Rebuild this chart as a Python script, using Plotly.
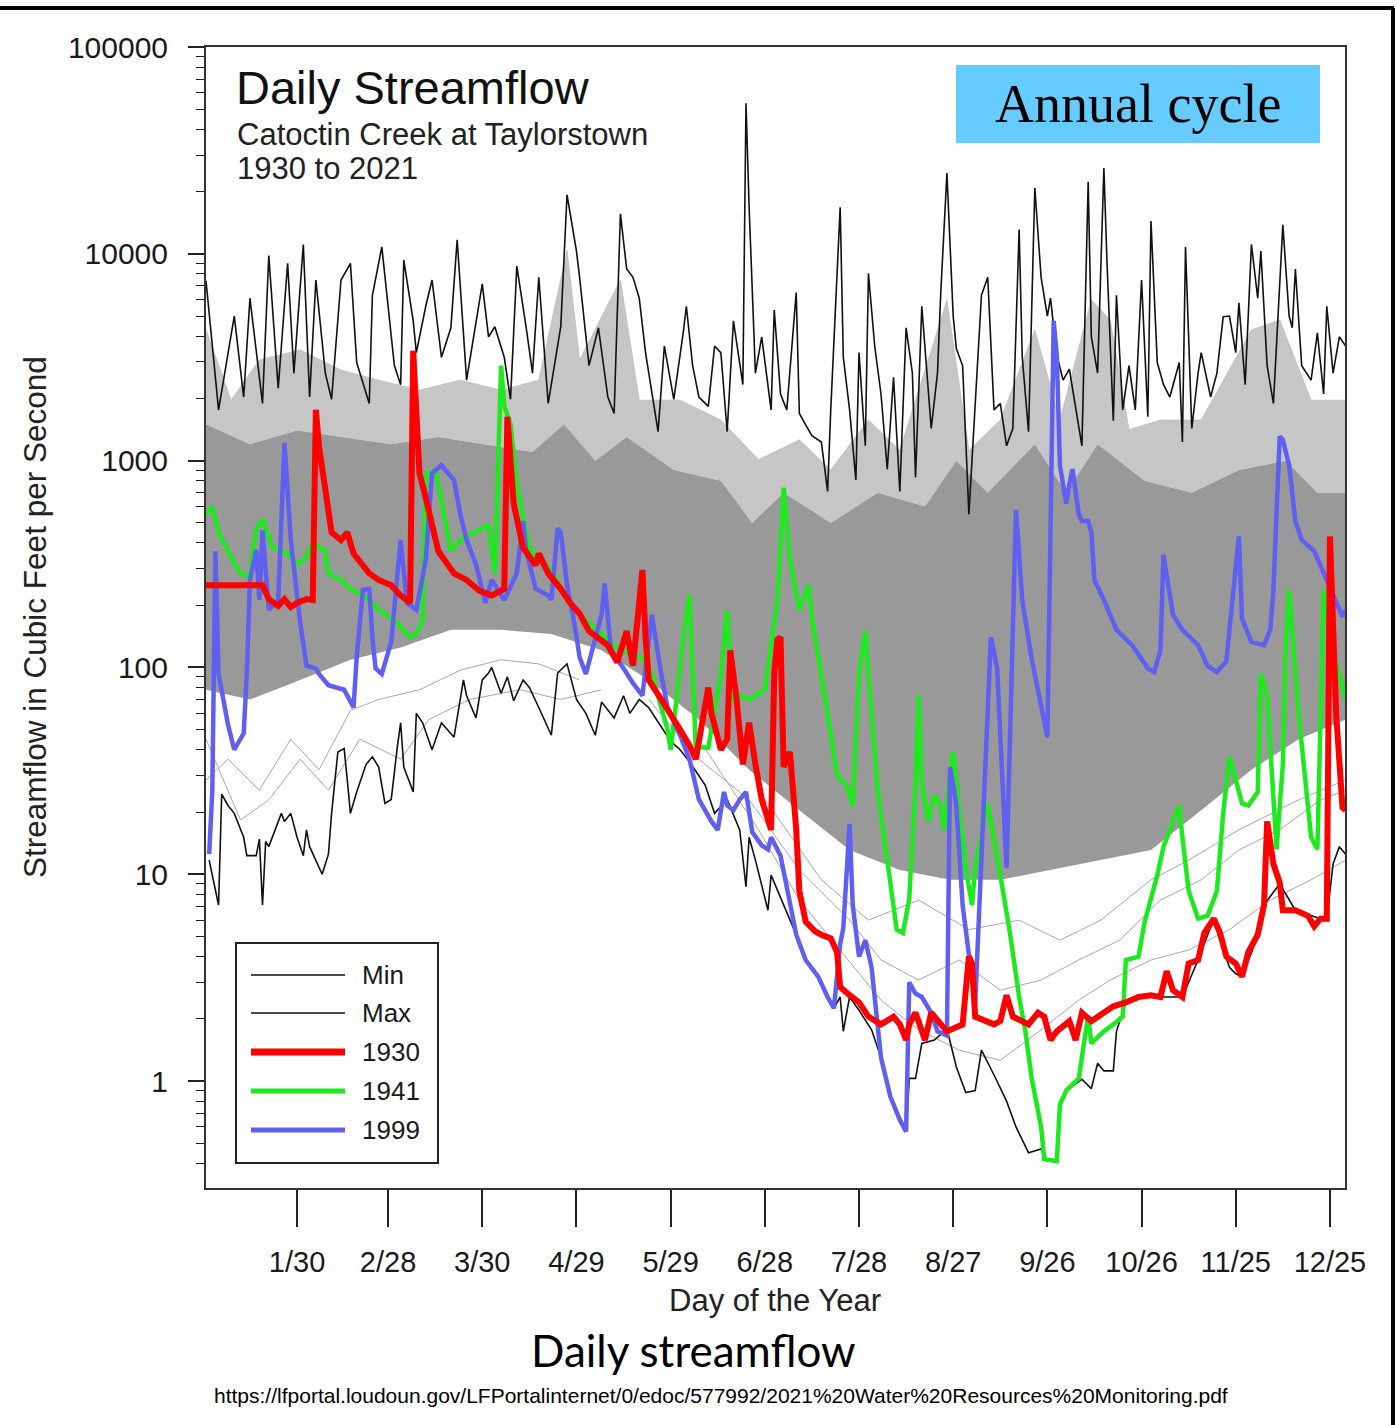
import plotly.graph_objects as go

# ---------------- data (day of year, streamflow in cfs) ----------------
MONTH_TICK_DAYS = [30, 59, 89, 119, 149, 179, 209, 239, 269, 299, 329, 359]
MONTH_TICK_TEXT = ["1/30", "2/28", "3/30", "4/29", "5/29", "6/28", "7/28", "8/27",
                   "9/26", "10/26", "11/25", "12/25"]
Y_TICK_VALS = [1, 10, 100, 1000, 10000, 100000]
Y_TICK_TEXT = ["1", "10", "100", "1000", "10000", "100000"]

MAX_FLOW = [(1,7400),(5,1760),(10,5000),(13,2030),(15,6100),(19,1890),(21,9800),(24,2240),(27,9000),(29,2650),
    (32,11100),(34,2030),(36,7470),(39,2650),(41,1980),(44,7470),(47,9000),(49,2980),(53,1890),(54,6300),
    (57,10800),(61,2880),(63,2330),(64,9330),(67,4740),(68,3330),(71,5580),(73,7470),(76,3160),(79,4390),
    (81,11700),(84,2450),(89,7150),(91,3970),(93,4440),(96,3160),(98,1980),(100,8720),(103,4390),(105,2650),
    (107,7700),(110,1890),(114,4440),(116,19300),(119,10300),(120,7700),(123,2880),(126,4390),(129,2030),
    (131,1690),(133,15600),(135,8450),(137,7700),(139,6100),(141,3330),(145,1380),(147,3580),(150,1980),
    (153,4150),(154,5580),(156,2880),(158,2030),(161,1830),(163,3580),(165,3330),(167,1380),(169,4740),
    (172,2330),(173,53500),(174,16800),(176,2650),(178,3970),(181,1760),(182,5350),(184,2100),(186,1760),
    (189,6500),(190,1690),(192,1490),(194,1320),(197,1230),(199,710),(200,1760),(203,16800),(204,3160),
    (206,1760),(208,806),(209,3330),(211,1180),(212,8050),(214,3580),(216,2100),(218,910),(220,2530),
    (222,710),(224,4390),(226,2650),(227,830),(229,5580),(232,1430),(234,2650),(235,6300),(237,24600),
    (239,5000),(240,3480),(242,2880),(244,550),(247,3230),(248,6300),(250,7700),(252,1760),(254,1890),
    (256,1180),(258,1430),(260,13100),(261,3160),(263,1380),(265,20800),(267,7700),(269,5000),(270,6100),
    (272,3230),(274,2450),(276,2770),(278,1760),(280,1180),(282,22300),(283,3970),(285,2650),(287,26000),
    (288,9000),(290,1560),(291,6300),(293,1760),(295,2880),(297,1760),(299,7470),(301,1630),(302,14400),
    (304,2980),(306,2330),(308,2030),(311,2980),(312,1230),(313,10800),(315,1430),(317,2650),(318,3330),
    (321,2030),(323,2650),(325,4960),(327,5000),(329,3330),(330,5800),(332,2330),(334,11100),(336,6100),
    (337,10300),(339,2880),(341,1890),(344,13800),(346,5000),(347,4390),(348,8450),(350,2880),(353,2450),
    (355,4150),(357,2100),(358,5580),(360,2650),(362,3970),(364,3580)]

MIN_FLOW = [(2,11.7),(5,7.1),(6,24.4),(8,21.5),(10,19.7),(13,15.1),(14,12.3),(17,12.3),(18,14.8),(19,7.1),
    (20,14.4),(21,13.6),(25,19.7),(26,18),(28,19.7),(30,15.1),(32,12.3),(33,16.4),(34,13.6),(36,11.7),
    (38,10),(40,12.5),(41,19.7),(43,39),(45,40.5),(46,28.6),(47,19.7),(49,25),(52,34),(54,37),(56,33),
    (58,22),(60,23),(62,42),(63,54),(64,33),(67,25),(68,60),(70,54),(73,40),(76,54),(80,46),(83,87),
    (84,73),(87,57),(89,87),(91,94),(92,100),(95,75),(97,90),(99,69),(102,87),(104,80),(107,64),(111,47),
    (113,94),(116,104),(119,70),(122,60),(125,47),(127,68),(131,57),(134,73),(136,60),(139,70),(142,64),
    (146,52),(149,44),(152,40),(155,35),(160,27),(163,19.7),(167,23),(171,16.4),(173,8.7),(174,15.1),
    (176,11.7),(180,6.7),(181,9.9),(185,7.1),(189,5.1),(192,3.85),(196,3.2),(199,2.55),(201,2.25),
    (203,2.55),(204,1.74),(206,2.55),(209,2.2),(213,1.77),(216,1.3),(219,0.84),(222,0.65),(224,0.57),
    (225,1.03),(227,1.03),(229,1.52),(233,1.58),(237,1.79),(240,1.17),(243,0.88),(246,0.9),(248,1.41),
    (252,1.07),(256,0.8),(259,0.6),(261,0.52),(263,0.45),(267,0.47),(269,0.41),(272,0.41),(273,0.77),
    (275,0.9),(280,1.02),(283,0.92),(285,1.22),(287,1.12),(290,1.12),(291,1.74),(294,2.4),(301,2.6),
    (305,2.55),(312,2.55),(317,3.85),(322,6.1),(324,4.8),(327,3.55),(329,3.3),(331,3.2),(336,5),
    (338,7.1),(343,9),(348,6.7),(356,6.1),(358,6.1),(360,11.2),(362,13.6),(364,12.5)]

Y1930 = [(1,250),(19,250),(21,214),(24,198),(26,214),(28,196),(30,205),(33,214),(35,212),(36,1760),(37,1170),
    (40,530),(41,450),(44,413),(46,450),(48,355),(50,322),(53,285),(56,265),(60,250),(63,223),(66,205),
    (67,3400),(69,870),(71,660),(75,365),(80,285),(84,265),(88,235),(92,223),(96,240),(97,1630),(99,620),
    (102,380),(106,312),(107,355),(110,285),(114,240),(117,205),(120,182),(123,150),(129,128),(132,106),
    (134,132),(135,150),(137,102),(140,296),(141,140),(142,87),(146,70),(149,60),(152,50),(155,42),
    (157,36),(161,80),(162,60),(165,40),(167,45),(168,121),(170,70),(172,34),(174,54),(176,34),(178,23),
    (181,16.4),(182,93),(183,136),(184,140),(185,33),(187,39),(189,16.4),(190,8.3),(192,5.9),(195,5.3),
    (197,5.1),(200,4.9),(202,4.2),(203,2.85),(206,2.6),(209,2.4),(212,2.05),(216,1.88),(220,2.05),
    (222,1.88),(224,1.58),(225,1.88),(227,2.14),(228,1.95),(230,1.58),(232,2.14),(235,1.88),(237,1.74),
    (242,1.88),(244,4.0),(245,3.7),(246,2.05),(252,1.88),(254,1.95),(256,2.6),(258,2.05),(263,1.88),
    (266,2.14),(268,2.05),(270,1.58),(272,1.74),(273,1.8),(276,1.95),(278,1.58),(280,2.14),(283,1.95),
    (287,2.14),(290,2.3),(294,2.4),(298,2.55),(302,2.6),(305,2.55),(307,3.4),(309,2.75),(312,2.55),
    (314,3.7),(317,3.85),(319,5.2),(322,6.1),(324,5.2),(326,4.0),(329,3.7),(331,3.2),(333,4.2),(336,5.1),
    (338,7.1),(339,18),(341,11.2),(343,9.1),(344,6.7),(348,6.7),(352,6.3),(354,5.6),(356,6.1),(358,6.1),
    (359,430),(361,59),(363,21),(364,20.4)]

Y1941 = [(1,550),(3,600),(5,450),(9,340),(12,285),(15,275),(17,470),(19,520),(22,385),(27,355),(30,315),
    (33,340),(35,400),(39,365),(40,285),(44,265),(47,240),(51,223),(54,205),(56,190),(61,170),(66,140),
    (68,145),(70,170),(71,860),(74,900),(76,645),(79,365),(82,413),(91,490),(93,285),(95,2880),(96,1840),
    (98,1500),(100,770),(102,525),(104,385),(106,340),(111,296),(114,240),(120,180),(127,145),(133,121),
    (140,112),(143,93),(148,50),(149,40),(151,73),(153,140),(155,225),(157,41),(161,41),(165,93),(167,188),
    (169,70),(171,73),(174,70),(176,73),(179,78),(183,212),(185,740),(187,330),(190,190),(193,250),
    (194,172),(199,60),(202,30),(205,27),(207,21.5),(209,93),(211,150),(212,93),(215,25),(218,11.7),
    (221,5.4),(223,5.2),(225,7.6),(227,27.5),(228,73),(229,27.5),(231,18),(233,24),(235,21.5),(236,16.4),
    (239,39),(241,19.7),(243,10.7),(245,7.1),(246,10.7),(250,22),(252,15.1),(254,9.9),(257,5.3),
    (260,2.55),(262,1.74),(264,1.03),(267,0.6),(268,0.42),(272,0.41),(273,0.77),(275,0.9),(279,1.03),
    (281,1.66),(282,2.05),(283,1.52),(287,1.74),(290,1.88),(293,2.05),(294,3.85),(298,4.0),(300,5.9),
    (302,7.6),(304,9.9),(306,13.6),(308,16.4),(311,21.5),(312,15.1),(314,8.3),(317,6.1),(320,6.3),
    (323,8.3),(325,19.7),(327,37),(329,28.6),(331,22),(333,21.5),(336,25),(337,93),(339,73),(342,13.2),
    (344,34),(345,140),(346,237),(349,60),(353,15.1),(355,13.2),(356,60),(357,237),(360,121),(364,70)]

Y1999 = [(2,12.5),(3,25),(4,365),(5,93),(8,53),(10,40),(13,48),(14,93),(15,265),(17,370),(18,212),(19,460),
    (21,190),(24,212),(26,1220),(27,770),(28,413),(31,165),(33,102),(36,99),(37,93),(40,82),(45,78),
    (48,64),(49,112),(51,237),(53,240),(54,140),(55,99),(57,93),(60,133),(63,413),(65,205),(68,190),
    (71,330),(73,870),(76,950),(80,806),(82,550),(84,413),(87,315),(90,205),(92,265),(96,212),(100,285),
    (102,510),(103,365),(106,240),(110,223),(111,212),(113,470),(114,450),(116,250),(118,175),(120,112),
    (122,93),(127,180),(128,255),(130,121),(134,99),(137,84),(140,73),(143,180),(146,93),(148,64),
    (152,47),(155,36),(158,23),(162,18),(164,16.4),(166,25),(167,21.5),(169,20.4),(171,23),(173,25),
    (175,16),(178,13.8),(180,13.2),(181,15.1),(184,12.3),(187,7.1),(189,5.1),(192,3.85),(196,3.2),
    (199,2.55),(201,2.25),(203,4.6),(204,5.5),(206,17.5),(207,7.1),(209,4.0),(211,4.8),(213,3.55),
    (216,1.3),(219,0.84),(222,0.65),(224,0.57),(225,3.0),(227,2.65),(229,2.55),(232,2.14),(234,1.74),
    (237,1.66),(238,33),(240,21.5),(242,7.1),(246,2.35),(251,140),(253,99),(256,10.7),(259,577),
    (261,212),(264,110),(269,46),(271,4740),(272,3230),(273,950),(275,620),(276,770),(277,910),(279,550),
    (280,510),(282,510),(283,450),(284,265),(287,212),(291,152),(296,128),(301,99),(303,95),(305,121),
    (306,350),(309,180),(312,152),(317,128),(320,102),(323,95),(326,107),(327,152),(330,430),(331,172),
    (334,133),(338,128),(340,152),(341,237),(343,1310),(344,1260),(346,950),(348,510),(350,413),
    (354,365),(357,285),(360,223),(363,176),(364,190)]

# envelope of the mass of other years (grey)
OTHER_YEARS_UPPER = [(1,4300),(9,1960),(18,3070),(31,3430),(44,2740),(56,2450),(69,2190),(82,2450),(95,2190),
    (107,2450),(116,10400),(120,3070),(133,7470),(139,1960),(152,1960),(165,1570),(177,1010),(190,1260),
    (200,900),(212,1570),(222,1120),(237,5980),(244,1120),(254,1570),(265,4280),(273,1570),(283,5980),
    (289,4790),(295,1410),(305,1570),(318,1570),(334,4280),(343,4790),(353,1960),(364,1960)]
OTHER_YEARS_DENSE_TOP = [(1,1500),(15,1200),(30,1400),(45,1300),(60,1200),(75,1300),(90,1200),(105,1100),
    (115,1500),(125,1000),(135,1300),(150,900),(165,800),(175,500),(185,700),(200,500),(215,700),(230,600),
    (240,1000),(250,700),(265,1200),(275,700),(285,1200),(300,800),(315,700),(330,900),(345,1000),
    (355,700),(364,700)]
OTHER_YEARS_DENSE_BOTTOM = [(1,78),(15,70),(31,87),(47,109),(63,125),(79,152),(95,152),(111,145),(127,121),
    (142,87),(158,56),(174,32),(190,20.4),(206,13.1),(222,10.5),(238,9.4),(254,9.4),(270,10.5),(286,11.7),
    (302,13.1),(318,20.4),(334,32),(349,45),(364,56)]
OTHER_YEAR_A = [(1,28.6),(8,36),(18,25.5),(28,45),(37,32),(47,62),(56,70),(69,78),(82,97),(95,109),(107,104),(120,87)]
OTHER_YEAR_B = [(1,45),(12,18.3),(21,22.9),(31,36),(40,25.5),(50,45),(63,36),(72,56),(85,70),(101,78),(114,70),(127,78)]
OTHER_YEAR_C = [(142,70),(158,36),(174,22.9),(190,10.5),(206,6.0),(216,3.85),(228,3.08),(241,3.85),(254,2.75),
    (267,3.08),(279,3.85),(292,4.8),(305,7.5),(318,9.4),(330,13.1),(343,16.4),(356,22.9),(364,25.5)]
OTHER_YEAR_D = [(158,45),(177,16.4),(190,7.5),(203,4.3),(216,2.46),(228,1.77),(241,1.41),(254,1.26),(267,1.77),
    (279,2.46),(289,3.08),(302,3.85),(314,4.3),(327,5.4),(340,7.5),(353,9.4),(364,11.7)]
OTHER_YEAR_E = [(177,25.5),(197,9.4),(212,6.0),(228,7.5),(244,5.4),(260,6.0),(273,4.8),(286,6.0),(302,9.4),
    (314,11.7),(330,16.4),(349,22.9),(364,28.6)]

LEGEND_NAMES = ["Min", "Max", "1930", "1941", "1999"]

# ---------------- figure ----------------
def xs(p):
    return [a for a, b in p]

def ys(p):
    return [b for a, b in p]

FONT = "Liberation Sans, Arial, sans-serif"
fig = go.Figure()

# light grey (mixed) region
fig.add_trace(go.Scatter(x=xs(OTHER_YEARS_DENSE_TOP), y=ys(OTHER_YEARS_DENSE_TOP), mode="lines",
                         line=dict(width=0), hoverinfo="skip", showlegend=False))
fig.add_trace(go.Scatter(x=xs(OTHER_YEARS_UPPER), y=ys(OTHER_YEARS_UPPER), mode="lines",
                         line=dict(width=0.8, color="#bdbdbd"), fill="tonexty", fillcolor="#c6c6c6",
                         hoverinfo="skip", showlegend=False))
# dense grey region
fig.add_trace(go.Scatter(x=xs(OTHER_YEARS_DENSE_BOTTOM), y=ys(OTHER_YEARS_DENSE_BOTTOM), mode="lines",
                         line=dict(width=0), hoverinfo="skip", showlegend=False))
fig.add_trace(go.Scatter(x=xs(OTHER_YEARS_DENSE_TOP), y=ys(OTHER_YEARS_DENSE_TOP), mode="lines",
                         line=dict(width=0), fill="tonexty", fillcolor="#999999",
                         hoverinfo="skip", showlegend=False))
for p in [OTHER_YEAR_A, OTHER_YEAR_B, OTHER_YEAR_C, OTHER_YEAR_D, OTHER_YEAR_E]:
    fig.add_trace(go.Scatter(x=xs(p), y=ys(p), mode="lines", line=dict(width=1, color="#a8a8a8"),
                             hoverinfo="skip", showlegend=False))

fig.add_trace(go.Scatter(x=xs(MAX_FLOW), y=ys(MAX_FLOW), mode="lines", name="Max",
                         line=dict(width=1.6, color="#111111"), showlegend=False))
fig.add_trace(go.Scatter(x=xs(MIN_FLOW), y=ys(MIN_FLOW), mode="lines", name="Min",
                         line=dict(width=1.6, color="#111111"), showlegend=False))
fig.add_trace(go.Scatter(x=xs(Y1941), y=ys(Y1941), mode="lines", name="1941",
                         line=dict(width=4.5, color="#1ee81e"), showlegend=False))
fig.add_trace(go.Scatter(x=xs(Y1999), y=ys(Y1999), mode="lines", name="1999",
                         line=dict(width=4.5, color="#5f5ff2"), showlegend=False))
fig.add_trace(go.Scatter(x=xs(Y1930), y=ys(Y1930), mode="lines", name="1930",
                         line=dict(width=6, color="#ff0000"), showlegend=False))

minor_vals = []
for d in range(-1, 5):
    for k in range(2, 10):
        v = k * 10 ** d
        if v >= 0.31:
            minor_vals.append(v)

fig.update_layout(
    width=1397, height=1425,
    margin=dict(l=206, r=52, t=47, b=237),
    paper_bgcolor="white", plot_bgcolor="white",
    font=dict(family=FONT, color="#1a1a1a"),
    showlegend=False,
    xaxis=dict(range=[1, 363.8], showgrid=False, zeroline=False, showline=True, linecolor="#333333",
               linewidth=2, mirror=True, ticks="outside", ticklen=37, tickwidth=1.5, tickcolor="#222222",
               tickvals=MONTH_TICK_DAYS, ticktext=MONTH_TICK_TEXT, tickfont=dict(size=29, family=FONT),
               ticklabelstandoff=10),
    yaxis=dict(type="log", range=[-0.517, 5.0], showgrid=False, zeroline=False, showline=True,
               linecolor="#333333", linewidth=2, mirror=True, ticks="outside", ticklen=16, tickwidth=1.5,
               tickcolor="#222222", tickvals=Y_TICK_VALS, ticktext=Y_TICK_TEXT,
               tickfont=dict(size=30, family=FONT), ticklabelstandoff=14,
               minor=dict(tickvals=minor_vals, ticks="outside", ticklen=8, tickwidth=1.2, tickcolor="#222222")),
)

def px(xp):
    return (xp - 206) / 1139.0

def py(yp):
    return (1188 - yp) / 1141.0

ann = []
ann.append(dict(text="Daily Streamflow", x=px(234), y=py(88), xanchor="left", yanchor="middle",
                font=dict(size=47, family=FONT, color="#111111")))
ann.append(dict(text="Catoctin Creek at Taylorstown", x=px(235), y=py(134), xanchor="left", yanchor="middle",
                font=dict(size=31, family=FONT, color="#222222")))
ann.append(dict(text="1930 to 2021", x=px(235), y=py(169), xanchor="left", yanchor="middle",
                font=dict(size=31, family=FONT, color="#222222")))
ann.append(dict(text="Annual cycle", x=px(1138), y=py(104), xanchor="center", yanchor="middle",
                font=dict(size=54, family="Liberation Serif, Times New Roman, serif", color="#000000")))
ann.append(dict(text="Day of the Year", x=px(775), y=py(1300), xanchor="center", yanchor="middle",
                font=dict(size=31, family=FONT, color="#222222")))
ann.append(dict(text="Streamflow in Cubic Feet per Second", x=px(35), y=py(617), xanchor="center",
                yanchor="middle", textangle=-90, font=dict(size=31.5, family=FONT, color="#222222")))
ann.append(dict(text="Daily streamflow", x=px(693), y=py(1350), xanchor="center", yanchor="middle",
                font=dict(size=44, family="Lato, Open Sans, sans-serif", color="#000000")))
ann.append(dict(text="https://lfportal.loudoun.gov/LFPortalinternet/0/edoc/577992/2021%20Water%20Resources%20Monitoring.pdf",
                x=px(721), y=py(1395), xanchor="center", yanchor="middle",
                font=dict(size=21, family=FONT, color="#000000")))

legend_rows = [975, 1013, 1052, 1091, 1130]
legend_colors = ["#111111", "#111111", "#ff0000", "#1ee81e", "#5f5ff2"]
legend_widths = [1.6, 1.6, 7, 5, 5]
shapes = []
shapes.append(dict(type="rect", xref="paper", yref="paper", x0=px(236), x1=px(438), y0=py(1163), y1=py(943),
                   line=dict(color="#222222", width=2), fillcolor="white", layer="above"))
for name, yr, c, w in zip(LEGEND_NAMES, legend_rows, legend_colors, legend_widths):
    shapes.append(dict(type="line", xref="paper", yref="paper", x0=px(251), x1=px(345), y0=py(yr), y1=py(yr),
                       line=dict(color=c, width=w), layer="above"))
    ann.append(dict(text=name, x=px(360), y=py(yr), xanchor="left", yanchor="middle",
                    font=dict(size=26, family=FONT, color="#1a1a1a")))
shapes.append(dict(type="rect", xref="paper", yref="paper", x0=px(956), x1=px(1320), y0=py(143), y1=py(65),
                   line=dict(width=0), fillcolor="#66ccff", layer="above"))
# outer frame (top and right)
shapes.append(dict(type="line", xref="paper", yref="paper", x0=px(0), x1=px(1394), y0=py(8), y1=py(8),
                   line=dict(color="#000000", width=4), layer="above"))
shapes.append(dict(type="line", xref="paper", yref="paper", x0=px(1393), x1=px(1393), y0=py(1425), y1=py(8),
                   line=dict(color="#000000", width=4), layer="above"))

for a in ann:
    a.update(xref="paper", yref="paper", showarrow=False)
fig.update_layout(annotations=ann, shapes=shapes)

fig.write_html("out.html")
